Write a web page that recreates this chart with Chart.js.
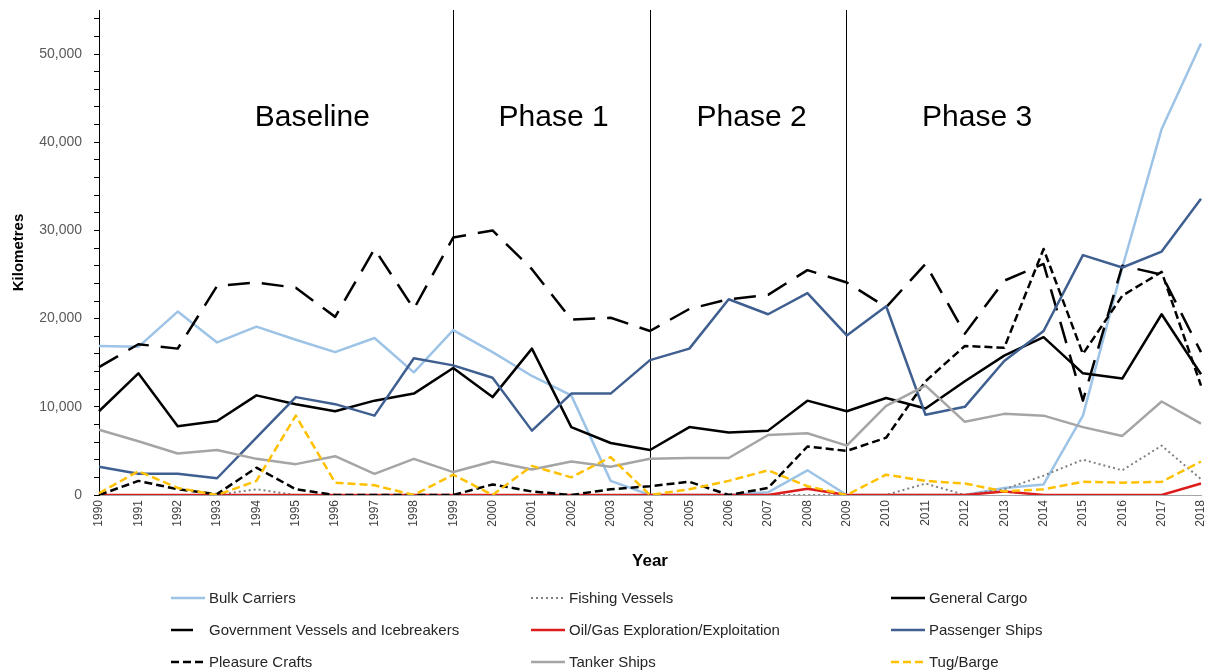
<!DOCTYPE html>
<html lang="en">

<head>
    <meta charset="UTF-8">
    <title>Kilometres by vessel type</title>
    <script src="https://cdn.jsdelivr.net/npm/chart.js"></script>
    <style>
        html, body { margin: 0; padding: 0; background: #fff; }
        #wrap { position: relative; width: 1208px; height: 671px; }
    </style>
    <script>
        // years on the x axis
        const years = ['1990', '1991', '1992', '1993', '1994', '1995', '1996', '1997', '1998', '1999',
            '2000', '2001', '2002', '2003', '2004', '2005', '2006', '2007', '2008', '2009',
            '2010', '2011', '2012', '2013', '2014', '2015', '2016', '2017', '2018'];

        // series values (km)
        const bulkCarriers = [16900, 16800, 20800, 17300, 19100, 17600, 16200, 17800, 13900, 18700,
            16200, 13500, 11300, 1600, 0, 0, 0, 300, 2800, 0,
            0, 0, 0, 800, 1200, 9000, 25800, 41500, 51200];
        const fishingVessels = [0, 0, 0, 0, 650, 0, 0, 0, 0, 0,
            0, 0, 0, 0, 0, 0, 0, 0, 0, 0,
            0, 1300, 0, 650, 2200, 4000, 2800, 5600, 1800];
        const generalCargo = [9500, 13800, 7800, 8400, 11300, 10300, 9500, 10700, 11500, 14400,
            11100, 16600, 7700, 5900, 5100, 7700, 7100, 7300, 10700, 9500,
            11000, 9800, 12900, 15800, 17900, 13800, 13200, 20500, 13700];
        const governmentVessels = [14500, 17100, 16600, 23700, 24100, 23500, 20200, 27900, 21100, 29200,
            30000, 25600, 19900, 20100, 18600, 21100, 22200, 22700, 25500, 24100,
            21300, 26200, 18300, 24300, 26200, 10700, 26000, 25000, 16200];
        const oilGas = [0, 0, 0, 0, 0, 0, 0, 0, 0, 0,
            0, 0, 0, 0, 0, 0, 0, 0, 700, 0,
            0, 0, 0, 400, 0, 0, 0, 0, 1300];
        const passengerShips = [3200, 2400, 2400, 1900, 6500, 11100, 10300, 9000, 15500, 14700,
            13300, 7300, 11500, 11500, 15300, 16600, 22200, 20500, 22900, 18100,
            21400, 9100, 10000, 15200, 18600, 27200, 25800, 27600, 33600];
        const pleasureCrafts = [0, 1600, 650, 100, 3100, 650, 0, 0, 0, 0,
            1200, 400, 0, 650, 1000, 1500, 0, 800, 5500, 5000,
            6500, 12900, 16900, 16700, 27900, 16000, 22600, 25300, 12400];
        const tankerShips = [7400, 6100, 4700, 5100, 4100, 3500, 4400, 2400, 4100, 2600,
            3800, 2900, 3800, 3200, 4100, 4200, 4200, 6800, 7000, 5600,
            10100, 12400, 8300, 9200, 9000, 7700, 6700, 10600, 8100];
        const tugBarge = [200, 2700, 800, 0, 1600, 9000, 1400, 1100, 0, 2300,
            0, 3300, 2000, 4300, 0, 650, 1600, 2800, 1000, 0,
            2300, 1600, 1300, 400, 650, 1500, 1400, 1500, 3800];

        const seriesNames = ['Bulk Carriers', 'Fishing Vessels', 'General Cargo',
            'Government Vessels and Icebreakers', 'Oil/Gas Exploration/Exploitation', 'Passenger Ships',
            'Pleasure Crafts', 'Tanker Ships', 'Tug/Barge'];

        // phase labels (x in category index units, y in km)
        const phaseNames = ['Baseline', 'Phase 1', 'Phase 2', 'Phase 3'];
        const phaseX = [5.42, 11.55, 16.58, 22.31];
        const phaseY = 42800;
        const phaseBreaks = [9, 14, 19]; // 1999, 2004, 2009

        // legend grid placement
        const legendCols = [171, 531, 891];
        const legendRows = [598, 630, 662];

        function makeSet(i, data, color, dash, width) {
            return {
                label: seriesNames[i],
                data: data,
                borderColor: color,
                backgroundColor: color,
                borderWidth: width || 2.5,
                borderDash: dash || [],
                pointRadius: 0,
                tension: 0,
                fill: false,
                borderJoinStyle: 'round',
                order: 8 - i // later series drawn on top, like the original
            };
        }

        // phase titles + legend in 3 columns
        const extrasPlugin = {
            id: 'extras',
            afterDraw(chart) {
                const ctx = chart.ctx;
                const xs = chart.scales.x, ys = chart.scales.y;
                ctx.save();
                ctx.fillStyle = '#000';
                ctx.font = '30px Arial';
                ctx.textAlign = 'center';
                ctx.textBaseline = 'middle';
                phaseNames.forEach((name, i) => {
                    ctx.fillText(name, xs.getPixelForValue(phaseX[i]), ys.getPixelForValue(phaseY));
                });

                ctx.font = '15px Arial';
                ctx.textAlign = 'left';
                chart.data.datasets.forEach((ds, i) => {
                    const x = legendCols[i % 3];
                    const y = legendRows[Math.floor(i / 3)];
                    ctx.strokeStyle = ds.borderColor;
                    ctx.lineWidth = ds.borderWidth;
                    ctx.setLineDash(ds.borderDash);
                    ctx.beginPath();
                    ctx.moveTo(x, y);
                    ctx.lineTo(x + 34, y);
                    ctx.stroke();
                    ctx.setLineDash([]);
                    ctx.fillStyle = '#262626';
                    ctx.fillText(ds.label, x + 38, y + 1);
                });
                ctx.restore();
            }
        };

        window.onload = function () {
            const ctx = document.getElementById('chart').getContext('2d');
            new Chart(ctx, {
                type: 'line',
                data: {
                    labels: years,
                    datasets: [
                        makeSet(0, bulkCarriers, '#9dc3e6'),
                        makeSet(1, fishingVessels, '#808080', [2, 3], 2),
                        makeSet(2, generalCargo, '#000000'),
                        makeSet(3, governmentVessels, '#000000', [22, 12]),
                        makeSet(4, oilGas, '#dd1c1c'),
                        makeSet(5, passengerShips, '#3f5f91'),
                        makeSet(6, pleasureCrafts, '#000000', [8, 4]),
                        makeSet(7, tankerShips, '#a5a5a5'),
                        makeSet(8, tugBarge, '#ffc000', [8, 4])
                    ]
                },
                options: {
                    responsive: false,
                    animation: false,
                    layout: { padding: { left: 0, top: 10, right: 7, bottom: 96 } },
                    plugins: {
                        legend: { display: false },
                        tooltip: { enabled: false }
                    },
                    scales: {
                        x: {
                            type: 'category',
                            offset: false,
                            afterFit: s => {
                                s.height = 80;
                                s.paddingLeft = 0;
                                s.paddingRight = 0;
                            },
                            border: { display: true, color: '#a6a6a6', width: 1 },
                            grid: {
                                drawTicks: false,
                                lineWidth: 1,
                                color: c => phaseBreaks.includes(c.index) ? '#000' : 'rgba(0,0,0,0)'
                            },
                            ticks: {
                                autoSkip: false,
                                maxRotation: 90,
                                minRotation: 90,
                                padding: 5,
                                color: '#404040',
                                font: { family: 'Arial', size: 12 }
                            },
                            title: {
                                display: true,
                                text: 'Year',
                                color: '#000',
                                font: { family: 'Arial', size: 17, weight: 'bold' },
                                padding: { top: 0, bottom: 3 }
                            }
                        },
                        y: {
                            min: 0,
                            max: 55000,
                            afterFit: s => {
                                s.width = 99;
                                s.paddingTop = 0;
                                s.paddingBottom = 0;
                            },
                            border: { display: true, color: '#000', width: 1 },
                            grid: {
                                drawOnChartArea: false,
                                drawTicks: true,
                                tickLength: 5,
                                tickColor: c => (c.tick && c.tick.value % 2000 === 0 ? '#000' : 'rgba(0,0,0,0)')
                            },
                            ticks: {
                                stepSize: 1000,
                                autoSkip: false,
                                padding: 12,
                                color: '#595959',
                                font: { family: 'Arial', size: 14 },
                                callback: v => (v % 10000 === 0 ? v.toLocaleString('en-US') : '')
                            },
                            title: {
                                display: true,
                                text: 'Kilometres',
                                color: '#000',
                                font: { family: 'Arial', size: 15, weight: 'bold' },
                                padding: { top: 10, bottom: 0 }
                            }
                        }
                    }
                },
                plugins: [extrasPlugin]
            });
        };
    </script>
</head>

<body>
    <div id="wrap">
        <canvas id="chart" width="1208" height="671"></canvas>
    </div>
</body>

</html>
